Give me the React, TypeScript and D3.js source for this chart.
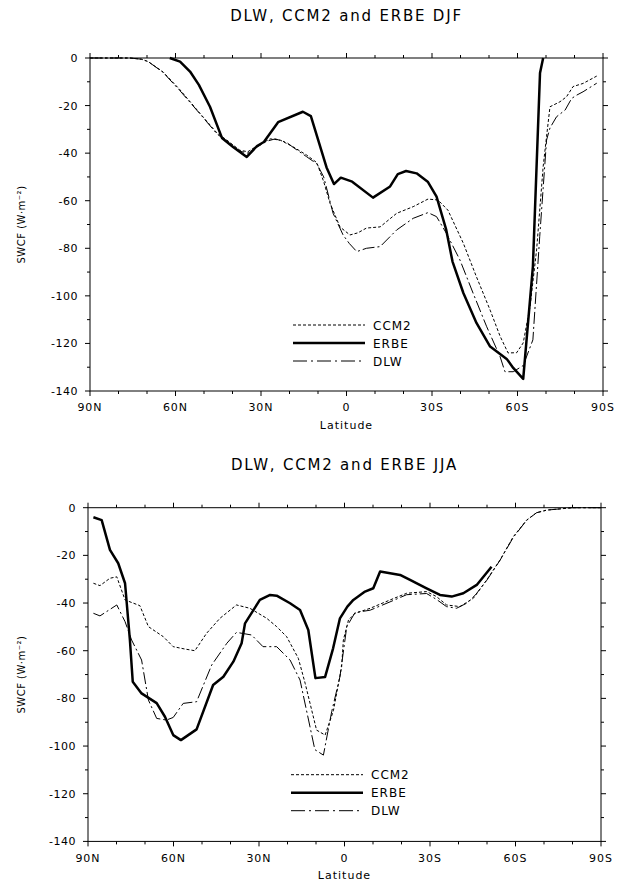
import React from 'react';
import * as d3 from 'd3';

type Pt = [number, number];

const latTickValues = [90, 60, 30, 0, -30, -60, -90];
const latTickLabels = ['90N', '60N', '30N', '0', '30S', '60S', '90S'];
const valTickValues = [0, -20, -40, -60, -80, -100, -120, -140];
const seriesNames = ['CCM2', 'ERBE', 'DLW'];
const yAxisTitle = 'SWCF (W·m⁻²)';
const xAxisTitle = 'Latitude';

// ---- DJF ----
const djfERBE: Pt[] = [
  [62, 0], [58.4, -1.5], [54.9, -5.7], [51.8, -11.3], [47.9, -20.5], [43.7, -33.6], [39.8, -37.4],
  [35, -41.6], [31.4, -37], [29, -35.3], [24, -27], [15.3, -22.6], [12.5, -24.4], [7, -46],
  [4.4, -53], [2, -50.3], [-2, -52], [-9.3, -58.7], [-15.3, -54], [-18, -48.8], [-20.9, -47.5],
  [-24.6, -48.5], [-28.5, -52], [-31.6, -58.3], [-35, -72.3], [-37.2, -85.6], [-41, -98.8],
  [-45.6, -111.4], [-50.4, -121.3], [-56.2, -126.5], [-58.5, -130.3], [-62, -134.9],
  [-65.4, -87.7], [-67.9, -6.3], [-69, 0],
];
const djfCCM2: Pt[] = [
  [90, 0], [76, 0], [72, -0.5], [69.6, -1.5], [64.4, -5.8], [58.4, -13.4], [51.4, -23.3],
  [45.4, -31.6], [42, -34.5], [37.4, -38.8], [34.6, -39.4], [31.4, -37], [26.8, -34], [23.3, -34.5],
  [18.8, -37.3], [14, -40.8], [10.4, -44], [8, -52], [5.8, -61], [2.3, -71], [-1.2, -74.4],
  [-4, -73.5], [-7, -71.5], [-11.8, -71], [-17.6, -65.3], [-23.4, -62.5], [-28.6, -59.3],
  [-32.1, -59.7], [-35.6, -64], [-41, -77.9], [-45.6, -92], [-50.4, -106], [-53.9, -117],
  [-56.7, -124], [-59.7, -123.9], [-62, -119.8], [-64.4, -104.5], [-66.7, -80.7], [-69, -45.7],
  [-70.2, -33], [-71.4, -20.5], [-74.9, -18.4], [-77.2, -16.3], [-79.5, -12], [-83, -10.7],
  [-87.8, -7.6],
];
const djfDLW: Pt[] = [
  [90, 0], [76, 0], [72, -0.5], [69.6, -1.5], [64.4, -6], [58.4, -13.8], [51.4, -23.5],
  [45.4, -32], [42, -35], [37.4, -39.2], [34.6, -40], [31.4, -37.5], [28, -35], [25, -34],
  [21, -35.5], [18.8, -37.5], [14, -41.5], [10.4, -44.5], [8, -50], [4.7, -65.3], [1.2, -74.4],
  [-1, -78], [-3.6, -81.4], [-7, -80], [-11.8, -79.3], [-17.6, -72.3], [-23.4, -67.4],
  [-28.6, -65], [-31.6, -66.7], [-35, -73.6], [-39.8, -84.9], [-44.4, -98.8], [-49.2, -113],
  [-53.9, -125.6], [-55.6, -131.9], [-58.5, -131.9], [-62, -129.3], [-65.4, -118.5],
  [-67.8, -75], [-70.2, -34.5], [-71.4, -29.4], [-73.7, -24.7], [-76.7, -21.9], [-79, -17],
  [-80.8, -15.6], [-83, -14.2], [-87.8, -10.6],
];

// ---- JJA ----
const jjaERBE: Pt[] = [
  [88.1, -4], [85.2, -5.2], [82.3, -17.7], [79.4, -23.3], [77, -31.7], [75.3, -55.5],
  [74.3, -73], [71.2, -77.9], [65.9, -82], [63, -87.7], [60.1, -95.4], [57.4, -97.5],
  [51.9, -93], [46.1, -74.4], [42.5, -70.9], [39, -64.6], [36.1, -56.9], [34.9, -48.5],
  [29.7, -38.7], [26.1, -36.6], [23.8, -36.9], [19.1, -40.1], [15.6, -42.9], [12.7, -51.3],
  [10.2, -71.5], [6.8, -71], [4, -59], [1.6, -46.4], [-1, -41.5], [-3.1, -38.7], [-7.2, -35.2],
  [-10.1, -33.8], [-12.5, -26.8], [-16, -27.5], [-19.5, -28.2], [-23, -30.3], [-28.8, -33.8],
  [-33.5, -36.6], [-37.6, -37.3], [-41.7, -35.9], [-46.4, -32.4], [-51.6, -24.8],
];
const jjaCCM2: Pt[] = [
  [88.1, -31.7], [85.8, -32.7], [82.3, -29.6], [79.9, -29], [77, -38.7], [71.8, -41.1],
  [68.8, -49.9], [63.6, -54.1], [60.1, -58.3], [56, -59.3], [52.5, -60], [48.4, -52.7],
  [43.7, -46.4], [37.9, -40.8], [33.2, -42.2], [27.3, -46.4], [23.8, -49.9], [20.3, -54.1],
  [16.2, -63.2], [13.8, -73.7], [9.8, -93.3], [6.8, -95.4], [3.9, -85.2], [1, -66.7],
  [0.4, -55.5], [-1.4, -47.1], [-3.7, -44.3], [-9, -42.2], [-16, -38.7], [-21.8, -35.9],
  [-28.8, -35.2], [-32.3, -37.3], [-35.8, -40.8], [-40.5, -41.5], [-45.2, -38], [-49.9, -30.3],
  [-54.6, -21.9], [-59.2, -12.2], [-63.9, -5.2], [-67.4, -2.1], [-71, -1], [-75.6, -0.5],
  [-80, 0], [-90, 0],
];
const jjaDLW: Pt[] = [
  [88.1, -44.3], [85.8, -45.4], [79.9, -40.8], [77, -47.8], [74.7, -55.5], [71.2, -63.9],
  [68.8, -80.7], [65.9, -88.4], [62.5, -89.1], [60.1, -88], [56.6, -82.1], [51.9, -81.4],
  [46.6, -66], [41.3, -56.9], [37.9, -52.3], [32.6, -53.4], [28.6, -58.3], [23.8, -58.3],
  [19.1, -63.9], [15.6, -72.3], [10.4, -101.5], [7.4, -103.8], [4.5, -85.6], [1.6, -70.9],
  [-0.8, -49.9], [-3.7, -44], [-9, -43], [-16, -39.5], [-21.8, -36.5], [-28.8, -36],
  [-32.3, -38.5], [-35.8, -41.5], [-39.3, -42.2], [-43, -40], [-46, -36.5], [-49.9, -30.5],
  [-54.6, -22], [-59.2, -12.5], [-63.9, -5.3], [-67.4, -2.1], [-71, -1], [-75.6, -0.5],
  [-80, 0], [-90, 0],
];

const FONT = '"DejaVu Sans", sans-serif';

type Box = {
  x0: number; x1: number; y0: number; y1: number;
  titleY: number; tickLabelY: number; axisTitleY: number;
};

const seriesStyle = [
  { width: 1, dash: '3,2' },
  { width: 2.5, dash: undefined as string | undefined },
  { width: 1, dash: '12,3,2,3' },
];

function Panel({ title, box, ccm2, erbe, dlw }: { title: string; box: Box; ccm2: Pt[]; erbe: Pt[]; dlw: Pt[] }) {
  const x = d3.scaleLinear().domain([90, -90]).range([box.x0, box.x1]);
  const y = d3.scaleLinear().domain([0, -140]).range([box.y0, box.y1]);
  const line = d3.line<Pt>().x((d) => x(d[0])).y((d) => y(d[1]));
  const xTicks = d3.range(90, -91, -10);
  const yTicks = d3.range(0, -141, -10);
  const series = [ccm2, erbe, dlw];
  const cx = (box.x0 + box.x1) / 2;
  const cy = (box.y0 + box.y1) / 2;
  const legX0 = box.x0 + 203;
  const legX1 = box.x0 + 275;
  const legYs = [267, 285, 303].map((o) => box.y0 + o);

  return (
    <g>
      <text x={cx} y={box.titleY} textAnchor="middle" fontSize={15} letterSpacing={1.8} fontFamily={FONT}>
        {title}
      </text>
      {/* frame */}
      <rect x={box.x0} y={box.y0} width={box.x1 - box.x0} height={box.y1 - box.y0} fill="none" stroke="#000" strokeWidth={1} />
      {/* x ticks */}
      {xTicks.map((t) => {
        const len = t % 30 === 0 ? 5 : 3;
        return (
          <g key={'xt' + t}>
            <line x1={x(t)} x2={x(t)} y1={box.y0} y2={box.y0 - len} stroke="#000" />
            <line x1={x(t)} x2={x(t)} y1={box.y1} y2={box.y1 + len} stroke="#000" />
          </g>
        );
      })}
      {/* y ticks */}
      {yTicks.map((t) => {
        const len = t % 20 === 0 ? 5 : 3;
        return (
          <g key={'yt' + t}>
            <line x1={box.x0} x2={box.x0 - len} y1={y(t)} y2={y(t)} stroke="#000" />
            <line x1={box.x1} x2={box.x1 + len} y1={y(t)} y2={y(t)} stroke="#000" />
          </g>
        );
      })}
      {latTickValues.map((t, i) => (
        <text key={'xl' + t} x={x(t)} y={box.tickLabelY} textAnchor="middle" fontSize={11} letterSpacing={1} fontFamily={FONT}>
          {latTickLabels[i]}
        </text>
      ))}
      {valTickValues.map((t) => (
        <text key={'yl' + t} x={box.x0 - 12} y={y(t) + 4} textAnchor="end" fontSize={11} letterSpacing={0.5} fontFamily={FONT}>
          {t === 0 ? '0' : '-' + Math.abs(t)}
        </text>
      ))}
      <text x={cx} y={box.axisTitleY} textAnchor="middle" fontSize={11} letterSpacing={1} fontFamily={FONT}>
        {xAxisTitle}
      </text>
      <text transform={`translate(25,${cy}) rotate(-90)`} textAnchor="middle" fontSize={10} letterSpacing={0.5} fontFamily={FONT}>
        {yAxisTitle}
      </text>
      {/* series */}
      {series.map((s, i) => (
        <path key={'s' + i} d={line(s) || ''} fill="none" stroke="#000" strokeWidth={seriesStyle[i].width}
          strokeDasharray={seriesStyle[i].dash} strokeLinejoin="round" />
      ))}
      {/* legend */}
      {seriesNames.map((n, i) => (
        <g key={'lg' + n}>
          <line x1={legX0} x2={legX1} y1={legYs[i]} y2={legYs[i]} stroke="#000" strokeWidth={seriesStyle[i].width}
            strokeDasharray={i === 2 ? '14,4,2,4' : seriesStyle[i].dash} />
          <text x={legX1 + 8} y={legYs[i] + 4.5} fontSize={12} letterSpacing={1} fontFamily={FONT}>
            {n}
          </text>
        </g>
      ))}
    </g>
  );
}

export default function App() {
  const topBox: Box = { x0: 90, x1: 603, y0: 58, y1: 391, titleY: 21, tickLabelY: 411, axisTitleY: 429 };
  const botBox: Box = { x0: 88, x1: 601, y0: 507.7, y1: 841.4, titleY: 470, tickLabelY: 862, axisTitleY: 879 };
  return (
    <svg width={626} height={885} style={{ position: 'absolute', left: 0, top: 0, background: '#fff' }}>
      <rect x={0} y={0} width={626} height={885} fill="#fff" />
      <Panel title="DLW, CCM2 and ERBE DJF" box={topBox} ccm2={djfCCM2} erbe={djfERBE} dlw={djfDLW} />
      <Panel title="DLW, CCM2 and ERBE JJA" box={botBox} ccm2={jjaCCM2} erbe={jjaERBE} dlw={jjaDLW} />
    </svg>
  );
}
